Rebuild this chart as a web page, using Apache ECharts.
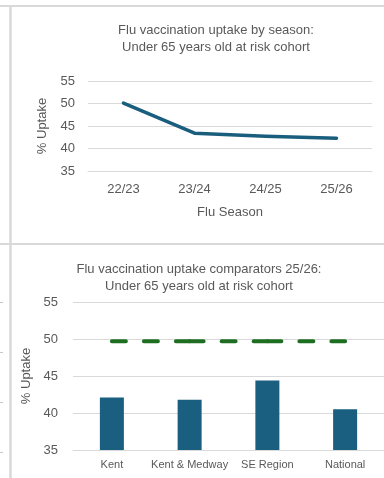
<!DOCTYPE html>
<html>
<head>
<meta charset="utf-8">
<script src="https://cdn.jsdelivr.net/npm/echarts@6/dist/echarts.min.js"></script>
<style>
  html, body { margin: 0; padding: 0; background: #fff; }
  #chart { width: 384px; height: 478px; }
</style>
</head>
<body>
<div id="chart"></div>
<script>
// top chart: uptake by season
const seasons = ['22/23', '23/24', '24/25', '25/26'];
const seasonUptake = [50.1, 43.4, 42.7, 42.3];

// bottom chart: comparators 25/26
const areas = ['Kent', 'Kent & Medway', 'SE Region', 'National'];
const areaUptake = [42.1, 41.8, 44.4, 40.5];
const targetUptake = [49.7, 49.7, 49.7, 49.7];

const yTicks = [35, 40, 45, 50, 55];

const txt = '#595959';
const grid = '#d9d9d9';
const blue = '#1a5e7e';
const green = '#1e6e22';
const font = 'Liberation Sans, Arial, sans-serif';

// target drawn segment by segment so every dash restarts at a point (like the source)
const targetSeries = [];
for (let i = 0; i < targetUptake.length - 1; i++) {
    const d = targetUptake.map((v, j) => (j === i || j === i + 1) ? v : null);
    targetSeries.push({
        type: 'line',
        xAxisIndex: 1,
        yAxisIndex: 1,
        data: d,
        symbol: 'none',
        silent: true,
        z: 5,
        lineStyle: { color: green, width: 4, type: [14, 18], cap: 'round' }
    });
}

const yAxisBase = {
    type: 'value',
    min: yTicks[0],
    max: yTicks[yTicks.length - 1],
    interval: 5,
    axisLine: { show: false },
    axisTick: { show: false },
    splitLine: { lineStyle: { color: grid, width: 1 } },
    nameLocation: 'middle',
    nameRotate: 90,
    nameTextStyle: { color: txt, fontSize: 13, fontFamily: font }
};

const option = {
    backgroundColor: '#ffffff',
    animation: false,
    textStyle: { fontFamily: font },
    grid: [
        { left: 88, right: 12, top: 81, height: 90 },
        { left: 73, right: -1, top: 302, height: 148 }
    ],
    xAxis: [
        {
            type: 'category',
            gridIndex: 0,
            data: seasons,
            axisLine: { lineStyle: { color: grid } },
            axisTick: { show: false },
            axisLabel: { color: txt, fontSize: 13, margin: 12 },
            name: 'Flu Season',
            nameLocation: 'middle',
            nameGap: 35,
            nameTextStyle: { color: txt, fontSize: 13, fontFamily: font }
        },
        {
            type: 'category',
            gridIndex: 1,
            data: areas,
            axisLine: { lineStyle: { color: grid } },
            axisTick: { show: false },
            axisLabel: { color: txt, fontSize: 11, margin: 9, interval: 0 }
        }
    ],
    yAxis: [
        Object.assign({}, yAxisBase, {
            gridIndex: 0,
            name: '% Uptake',
            nameGap: 39,
            axisLabel: { color: txt, fontSize: 13, margin: 13 }
        }),
        Object.assign({}, yAxisBase, {
            gridIndex: 1,
            name: '% Uptake',
            nameGap: 36,
            axisLabel: { color: txt, fontSize: 13, margin: 15 }
        })
    ],
    graphic: [
        { type: 'line', shape: { x1: 0, y1: 6, x2: 384, y2: 6 }, style: { stroke: '#d9d9d9', lineWidth: 2 } },
        { type: 'line', shape: { x1: 10.5, y1: 7, x2: 10.5, y2: 478 }, style: { stroke: '#d9d9d9', lineWidth: 2.5 } },
        { type: 'line', shape: { x1: 0, y1: 244, x2: 384, y2: 244 }, style: { stroke: '#d9d9d9', lineWidth: 2 } },
        { type: 'line', shape: { x1: 0, y1: 302.5, x2: 3, y2: 302.5 }, style: { stroke: '#c8c8c8', lineWidth: 1 } },
        { type: 'line', shape: { x1: 0, y1: 352.5, x2: 3, y2: 352.5 }, style: { stroke: '#c8c8c8', lineWidth: 1 } },
        { type: 'line', shape: { x1: 0, y1: 402.5, x2: 3, y2: 402.5 }, style: { stroke: '#c8c8c8', lineWidth: 1 } },
        { type: 'line', shape: { x1: 0, y1: 452.5, x2: 3, y2: 452.5 }, style: { stroke: '#c8c8c8', lineWidth: 1 } },
        {
            type: 'text', x: 216, y: 22,
            style: {
                text: 'Flu vaccination uptake by season:\nUnder 65 years old at risk cohort',
                fill: txt, font: '13px ' + font, textAlign: 'center', textVerticalAlign: 'top', lineHeight: 17
            }
        },
        {
            type: 'text', x: 199, y: 261,
            style: {
                text: 'Flu vaccination uptake comparators 25/26:\nUnder 65 years old at risk cohort',
                fill: txt, font: '13px ' + font, textAlign: 'center', textVerticalAlign: 'top', lineHeight: 17
            }
        }
    ],
    series: [
        {
            type: 'line',
            xAxisIndex: 0,
            yAxisIndex: 0,
            data: seasonUptake,
            symbol: 'none',
            lineStyle: { color: blue, width: 3.5, cap: 'round', join: 'round' }
        },
        {
            type: 'bar',
            xAxisIndex: 1,
            yAxisIndex: 1,
            data: areaUptake,
            barWidth: 24,
            itemStyle: { color: '#1a5e80' }
        }
    ].concat(targetSeries)
};

const myChart = echarts.init(document.getElementById('chart'));
myChart.setOption(option);
</script>
</body>
</html>
